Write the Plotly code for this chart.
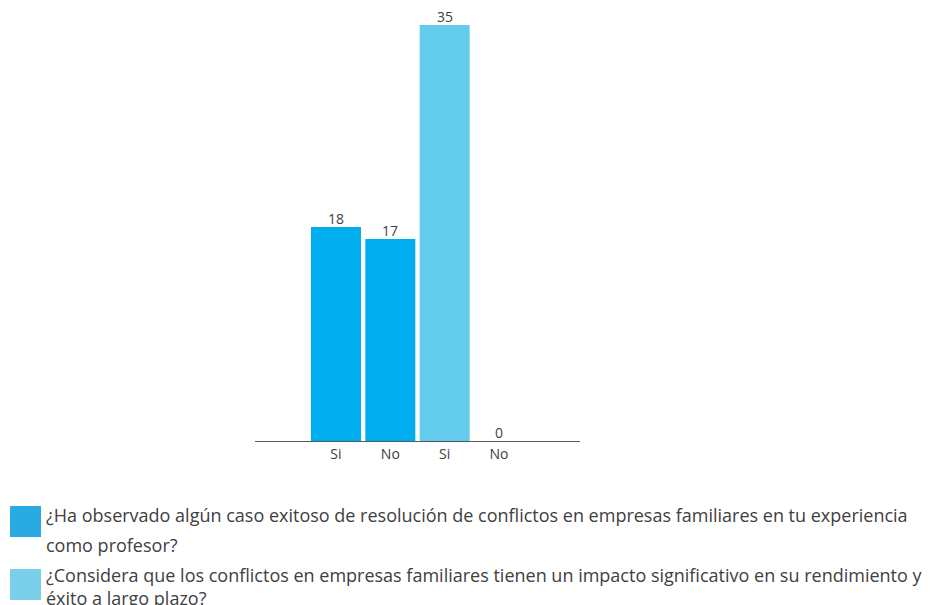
import plotly.graph_objects as go

categories = ["Si", "No"]
series_names = [
    "¿Ha observado algún caso exitoso de resolución de conflictos en empresas familiares en tu experiencia<br>como profesor?",
    "¿Considera que los conflictos en empresas familiares tienen un impacto significativo en su rendimiento y<br>éxito a largo plazo?",
]
series_values = [[18, 17], [35, 0]]
bar_colors = ["#00AEEF", "#63CBEB"]
legend_colors = ["#29ABE2", "#7ACFEB"]

FONT = "Open Sans"
TXT = "#404040"

fig = go.Figure()
ticks_v, ticks_t = [], []
pos = 0
for name, vals, col in zip(series_names, series_values, bar_colors):
    xs = list(range(pos, pos + len(vals)))
    pos += len(vals)
    ticks_v += xs
    ticks_t += categories
    fig.add_trace(go.Bar(
        x=xs, y=vals, name=name.replace("<br>", " "), marker=dict(color=col, line=dict(width=0)),
        width=0.92, showlegend=False,
    ))
    for x, v in zip(xs, vals):
        fig.add_annotation(x=x, y=v, text=str(v), showarrow=False, yanchor="bottom",
                           yshift=-3, font=dict(family=FONT, size=14, color=TXT))

fig.update_layout(
    width=941, height=605,
    margin=dict(l=255, r=361, t=25, b=164),
    paper_bgcolor="white", plot_bgcolor="white",
    barmode="overlay",
    xaxis=dict(range=[-1.49, 4.49], tickvals=ticks_v, ticktext=ticks_t,
               showline=True, linecolor="#595959", linewidth=1, showgrid=False,
               zeroline=False, ticks="", tickfont=dict(family=FONT, size=14, color=TXT)),
    yaxis=dict(range=[0, 35], visible=False, showgrid=False, zeroline=False),
)

# manual legend
tops = [506, 569]
for i, name in enumerate(series_names):
    top = tops[i]
    fig.add_shape(type="rect", xref="paper", yref="paper",
                  x0=(10 - 255) / 325, x1=(41 - 255) / 325,
                  y0=(441 - top) / 416, y1=(441 - (top + 31)) / 416,
                  fillcolor=legend_colors[i], line=dict(width=0))
    if i == 0:
        for j, line in enumerate(name.split("<br>")):
            yc = top + 9 + j * 30
            fig.add_annotation(xref="paper", yref="paper",
                               x=(44 - 255) / 325, y=(441 - yc) / 416,
                               xanchor="left", yanchor="middle", showarrow=False,
                               text=line, font=dict(family=FONT, size=18, color=TXT))
    else:
        yt = top - 8
        fig.add_annotation(xref="paper", yref="paper",
                           x=(44 - 255) / 325, y=(441 - yt) / 416,
                           xanchor="left", yanchor="top", align="left", showarrow=False,
                           text=name, font=dict(family=FONT, size=18, color=TXT))

fig.write_html("out.html")
